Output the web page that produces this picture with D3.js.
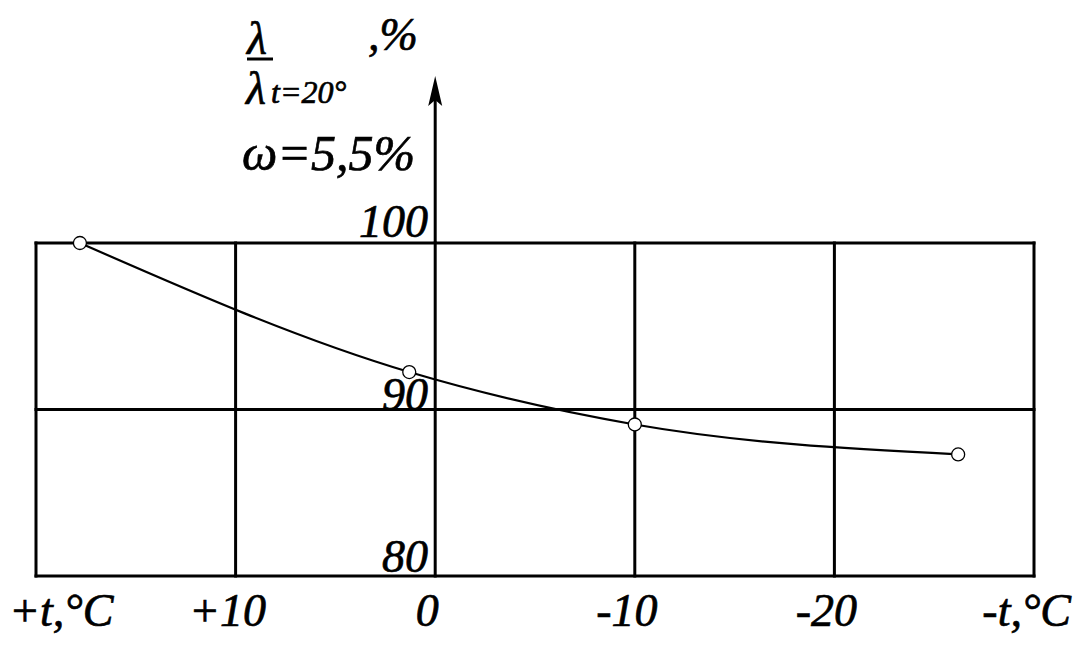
<!DOCTYPE html>
<html><head><meta charset="utf-8">
<script src="https://cdn.jsdelivr.net/npm/d3@7"></script>
<style>html,body{margin:0;padding:0;background:#fff;}svg{display:block;}</style>
</head><body>
<svg id="c" width="1090" height="650"></svg>
<script>
const temps = [17.8, 1.3, -10, -26.2];
const ratio = [100, 92.25, 89.1, 87.3];
const xTicks = [20, 10, 0, -10, -20, -30];
const xTickLabels = ["+t,°C", "+10", "0", "-10", "-20", "-t,°C"];
const yTicks = [80, 90, 100];
const yTickLabels = ["80", "90", "100"];

const FONT = "Liberation Serif";
const svg = d3.select("#c");
const x = d3.scaleLinear().domain([20, -30]).range([36, 1034]);
const y = d3.scaleLinear().domain([80, 100]).range([576, 243]);

function txt(sel) {
  return sel.attr("font-family", FONT).attr("font-style", "italic").attr("fill", "#000")
    .attr("stroke", "#000").attr("stroke-width", 0.7);
}

// grid
svg.append("g").selectAll("line").data(xTicks).join("line")
  .attr("x1", d => x(d)).attr("x2", d => x(d))
  .attr("y1", y(100) - 1.5).attr("y2", y(80) + 1.5)
  .attr("stroke", "#000").attr("stroke-width", 3);
svg.append("g").selectAll("line").data(yTicks).join("line")
  .attr("x1", x(20) - 1.5).attr("x2", x(-30) + 1.5)
  .attr("y1", d => y(d)).attr("y2", d => y(d))
  .attr("stroke", "#000").attr("stroke-width", 3);

// vertical axis with arrow
const ax = x(0);
svg.append("line").attr("x1", ax).attr("x2", ax).attr("y1", y(100)).attr("y2", 95)
  .attr("stroke", "#000").attr("stroke-width", 3);
svg.append("path").attr("d", `M${ax},76 L${ax+7},106 L${ax},100 L${ax-7},106 Z`).attr("fill", "#000");

// y labels
svg.append("g").selectAll("text").data(yTicks).join("text")
  .call(txt)
  .attr("x", 428).attr("y", d => y(d) - (d === 100 ? 6 : (d === 80 ? 4 : 0)))
  .attr("text-anchor", "end").attr("font-size", 46)
  .text((d, i) => yTickLabels[i]);

// x labels
svg.append("g").selectAll("text").data(xTicks).join("text")
  .call(txt)
  .attr("x", (d, i) => i === 0 ? x(d) - 27 : (i === xTicks.length - 1 ? x(d) + 37 : x(d) - 8))
  .attr("y", 626)
  .attr("text-anchor", (d, i) => i === 0 ? "start" : (i === xTicks.length - 1 ? "end" : "middle"))
  .attr("font-size", 46)
  .text((d, i) => xTickLabels[i]);

// curve
const pts = temps.map((t, i) => [x(t), y(ratio[i])]);
svg.append("path").attr("d", d3.line().curve(d3.curveMonotoneX)(pts))
  .attr("fill", "none").attr("stroke", "#000").attr("stroke-width", 2.2);
svg.append("g").selectAll("circle").data(pts).join("circle")
  .attr("cx", d => d[0]).attr("cy", d => d[1]).attr("r", 6.5)
  .attr("fill", "#fff").attr("stroke", "#000").attr("stroke-width", 1.3);

// title label
txt(svg.append("text")).attr("x", 247).attr("y", 54).attr("font-size", 46).text("λ");
svg.append("line").attr("x1", 247).attr("x2", 273).attr("y1", 59).attr("y2", 59)
  .attr("stroke", "#000").attr("stroke-width", 3);
txt(svg.append("text")).attr("x", 246).attr("y", 104).attr("font-size", 46).text("λ");
txt(svg.append("text")).attr("x", 271).attr("y", 103).attr("font-size", 32).text("t=20°");
txt(svg.append("text")).attr("x", 368).attr("y", 50).attr("font-size", 46).text(",%");
txt(svg.append("text")).attr("x", 242).attr("y", 170).attr("font-size", 50).text("ω=5,5%");
</script>
</body></html>
